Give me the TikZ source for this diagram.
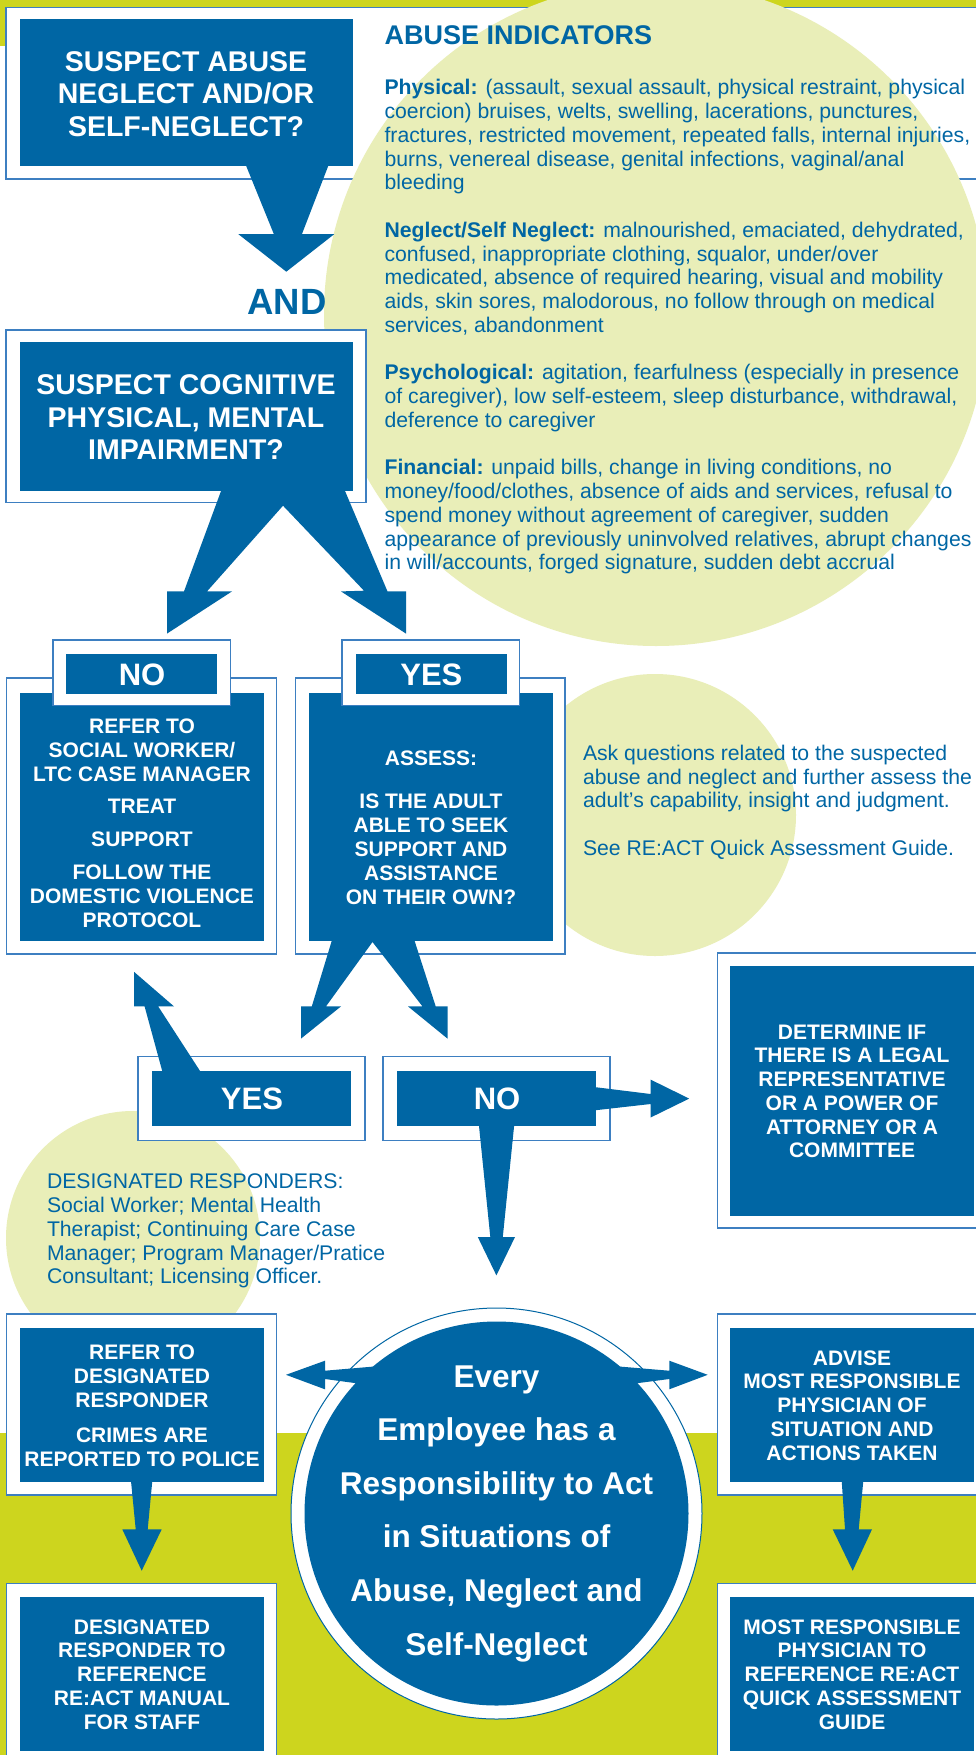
\documentclass[tikz,border=0pt]{standalone}
\usepackage{fontspec}
\setmainfont{Liberation Sans}
\definecolor{bblue}{HTML}{0066A4}
\definecolor{limeband}{HTML}{CDD51E}
\definecolor{palelime}{HTML}{E9EEB8}
\definecolor{oline}{HTML}{3D7FC1}
\newcommand\rnode[6]{\node[#1, anchor=north west, minimum width={(#5)-(#3)}, minimum height={(#6)-(#4)}] (#2) at (#3,#4) {};}
\newcommand\topstrut{\rule{0pt}{1em}}
\begin{document}
\begin{tikzpicture}[x=1pt,y=-1pt,
  wframe/.style={fill=white, draw=oline, line width=1.3pt, inner sep=0pt, outer sep=0pt},
  bbox/.style={fill=bblue, draw=none, inner sep=0pt, outer sep=0pt},
  barrow/.style={fill=bblue, draw=none},
  wtxt/.style={text=white, inner sep=0pt, outer sep=0pt, align=center, anchor=north},
  btxt/.style={text=bblue, inner sep=0pt, outer sep=0pt, align=left, anchor=north west},
  ]
\useasboundingbox (0,0) rectangle (976,1755);
\fill[white] (0,0) rectangle (976,1755);
\fill[limeband] (0,0) rectangle (976,46);
\fill[limeband] (0,1433) rectangle (976,1755);
% top frame
\rnode{wframe}{f1}{6}{7.7}{990}{179}
% pale discs
\fill[palelime] (656,314) circle (332pt);
\fill[palelime] (655,815) circle (141pt);
\fill[palelime] (133,1238) circle (127pt);
% boxes
\rnode{bbox}{b1}{20}{19}{353}{166}
\rnode{wframe}{f2}{6}{330}{366}{502.5}
\rnode{bbox}{b2}{20}{342}{353}{491}
\rnode{wframe}{fno}{6.4}{678}{276.8}{954}
\rnode{bbox}{bno}{20}{692.5}{263.6}{940.7}
\rnode{wframe}{hnof}{53}{640}{230.4}{705.7}
\rnode{bbox}{hno}{66}{654.3}{217}{693.6}
\rnode{wframe}{fyes}{295.7}{678}{565}{954}
\rnode{bbox}{byes}{309}{692.5}{552.7}{940.7}
\rnode{wframe}{hyesf}{342}{640}{519.6}{705.7}
\rnode{bbox}{hyes}{356}{654.3}{507}{693.6}
\rnode{wframe}{fy2}{138}{1056.4}{365}{1140.7}
\rnode{bbox}{by2}{152}{1071}{351}{1126.4}
\rnode{wframe}{fn2}{383}{1056.4}{610}{1140.7}
\rnode{bbox}{bn2}{397}{1071}{595.6}{1126.4}
\rnode{wframe}{fdet}{717.5}{952.9}{990}{1227.9}
\rnode{bbox}{bdet}{730}{965.7}{974}{1215.7}
\rnode{wframe}{fref}{6.4}{1314}{276.8}{1495}
\rnode{bbox}{bref}{20}{1328}{264}{1482}
\rnode{wframe}{fadv}{717.5}{1314}{990}{1495}
\rnode{bbox}{badv}{730}{1328}{974}{1482}
\rnode{wframe}{fdes}{6.4}{1583.3}{276.8}{1765}
\rnode{bbox}{bdes}{20}{1596.7}{264}{1750.7}
\rnode{wframe}{fmrp}{717.5}{1583.3}{990}{1765}
\rnode{bbox}{bmrp}{730}{1596.7}{974}{1750.7}
% central disc
\node[circle, fill=white, draw=bblue, line width=1pt, minimum size=411pt, inner sep=0pt] (ring) at (496.5,1513.5) {};
\node[circle, fill=bblue, minimum size=384pt, inner sep=0pt] (disc) at (496.5,1513.5) {};
% block arrows
\fill[barrow] (245.8,165) -- (273.9,234.2) -- (238.4,234.2) -- (286.3,271.7) -- (334.2,234.2) -- (301.9,234.2) -- (328.6,165) -- cycle;
\fill[barrow] (221.4,490) -- (184,591.4) -- (167,591.4) -- (167,633.6) -- (232,591.4) -- (207,591.4) -- (283,505.7) -- (364,590.7) -- (341,591.4) -- (406,633.6) -- (406,591.4) -- (387.5,591.4) -- (344.6,490) -- cycle;
\fill[barrow] (332,940) -- (311.8,1006.4) -- (301,1006.4) -- (301,1038.6) -- (341,1006.4) -- (326,1006.4) -- (372.5,942) -- (422.5,1006.4) -- (408,1006.4) -- (447.5,1038.6) -- (447.5,1006.4) -- (435.7,1006.4) -- (414.3,940) -- cycle;
\fill[barrow] (162.5,1072) -- (144.6,1006.4) -- (134,1006.4) -- (134,971.8) -- (174,1006.4) -- (158.2,1006.4) -- (200.7,1072) -- cycle;
\fill[barrow] (478.9,1125) -- (490.3,1237) -- (477.8,1237) -- (496.4,1275.4) -- (515,1237) -- (502.8,1237) -- (514.2,1125) -- cycle;
\fill[barrow] (594,1087) -- (650.6,1094) -- (650.6,1079.6) -- (689.2,1098.6) -- (650.6,1117.5) -- (650.6,1104) -- (594,1110.4) -- cycle;
\fill[barrow] (380,1366) -- (325,1370.7) -- (325,1360.7) -- (286,1374.8) -- (325,1389.3) -- (325,1379) -- (362,1384) -- cycle;
\fill[barrow] (613,1366) -- (669.3,1370.7) -- (669.3,1360.7) -- (707.7,1374.8) -- (669.3,1389.3) -- (669.3,1379) -- (631,1384) -- cycle;
\fill[barrow] (131,1481) -- (135.7,1529.3) -- (122.3,1529.3) -- (141.7,1570.7) -- (161.7,1529.3) -- (147.7,1529.3) -- (152.3,1481) -- cycle;
\fill[barrow] (841.7,1481) -- (845,1529.3) -- (832.7,1529.3) -- (852.7,1570.7) -- (872,1529.3) -- (858.7,1529.3) -- (863.3,1481) -- cycle;
% texts
\node[wtxt, font=\fontsize{28.5}{32.5}\selectfont\bfseries] (t1) at (186,71.4-28.5) {\topstrut SUSPECT ABUSE\\NEGLECT AND/OR\\SELF-NEGLECT?};
\node[wtxt, font=\fontsize{28.5}{32.5}\selectfont\bfseries] (t2) at (186,394.8-28.5) {\topstrut SUSPECT COGNITIVE\\PHYSICAL, MENTAL\\IMPAIRMENT?};
\node[anchor=base, inner sep=0pt, text=bblue, font=\fontsize{36.5}{40}\selectfont\bfseries] (tand) at (287,314) {AND};
\node[btxt, font=\fontsize{27}{30}\selectfont\bfseries] (tai) at (384.6,44.5-27) {\topstrut ABUSE INDICATORS};
\node[btxt, font=\fontsize{21.2}{23.75}\selectfont] (tbody) at (384.6,94.9-21.2) {\topstrut\textbf{Physical:} (assault, sexual assault, physical restraint, physical\\
coercion) bruises, welts, swelling, lacerations, punctures,\\
fractures, restricted movement, repeated falls, internal injuries,\\
burns, venereal disease, genital infections, vaginal/anal\\
bleeding\\[23.75pt]
\textbf{Neglect/Self Neglect:} malnourished, emaciated, dehydrated,\\
confused, inappropriate clothing, squalor, under/over\\
medicated, absence of required hearing, visual and mobility\\
aids, skin sores, malodorous, no follow through on medical\\
services, abandonment\\[23.75pt]
\textbf{Psychological:} agitation, fearfulness (especially in presence\\
of caregiver), low self-esteem, sleep disturbance, withdrawal,\\
deference to caregiver\\[23.75pt]
\textbf{Financial:} unpaid bills, change in living conditions, no\\
money/food/clothes, absence of aids and services, refusal to\\
spend money without agreement of caregiver, sudden\\
appearance of previously uninvolved relatives, abrupt changes\\
in will/accounts, forged signature, sudden debt accrual};
\node[wtxt, font=\fontsize{31}{34}\selectfont\bfseries] (tno) at (142,685.7-31) {\topstrut NO};
\node[wtxt, font=\fontsize{31}{34}\selectfont\bfseries] (tyes) at (431.4,685.7-31) {\topstrut YES};
\node[wtxt, font=\fontsize{21}{24}\selectfont\bfseries] (tnob) at (142,733.2-21) {\topstrut REFER TO\\SOCIAL WORKER/\\LTC CASE MANAGER\\[8.5pt]TREAT\\[9pt]SUPPORT\\[9pt]FOLLOW THE\\DOMESTIC VIOLENCE\\PROTOCOL};
\node[wtxt, font=\fontsize{21}{24}\selectfont\bfseries] (tyesb) at (431,765.4-21) {\topstrut ASSESS:\\[19.5pt]IS THE ADULT\\ABLE TO SEEK\\SUPPORT AND\\ASSISTANCE\\ON THEIR OWN?};
\node[btxt, font=\fontsize{21.2}{23.7}\selectfont] (task) at (583,760.5-21.2) {\topstrut Ask questions related to the suspected\\abuse and neglect and further assess the\\adult\char39 s capability, insight and judgment.\\[23.7pt]See RE:ACT Quick Assessment Guide.};
\node[wtxt, font=\fontsize{31}{34}\selectfont\bfseries] (tyes2) at (252,1109.5-31) {\topstrut YES};
\node[wtxt, font=\fontsize{31}{34}\selectfont\bfseries] (tno2) at (497,1109.5-31) {\topstrut NO};
\node[wtxt, font=\fontsize{21}{23.7}\selectfont\bfseries] (tdet) at (852,1039.2-21) {\topstrut DETERMINE IF\\THERE IS A LEGAL\\REPRESENTATIVE\\OR A POWER OF\\ATTORNEY OR A\\COMMITTEE};
\node[btxt, font=\fontsize{21.2}{23.9}\selectfont] (tdr) at (47,1188.3-21.2) {\topstrut DESIGNATED RESPONDERS:\\Social Worker; Mental Health\\Therapist; Continuing Care Case\\Manager; Program Manager/Pratice\\Consultant; Licensing Officer.};
\node[wtxt, font=\fontsize{21}{24}\selectfont\bfseries] (tref) at (142,1359-21) {\topstrut REFER TO\\DESIGNATED\\RESPONDER\\[11pt]CRIMES ARE\\REPORTED TO POLICE};
\node[wtxt, font=\fontsize{21}{23.75}\selectfont\bfseries] (tadv) at (852,1365-21) {\topstrut ADVISE\\MOST RESPONSIBLE\\PHYSICIAN OF\\SITUATION AND\\ACTIONS TAKEN};
\node[wtxt, font=\fontsize{31.5}{53.6}\selectfont\bfseries] (tdisc) at (496.5,1387-31.5) {\topstrut Every\\Employee has a\\Responsibility to Act\\in Situations of\\Abuse, Neglect and\\Self-Neglect};
\node[wtxt, font=\fontsize{21}{23.75}\selectfont\bfseries] (tdes) at (142,1634-21) {\topstrut DESIGNATED\\RESPONDER TO\\REFERENCE\\RE:ACT MANUAL\\FOR STAFF};
\node[wtxt, font=\fontsize{21}{23.75}\selectfont\bfseries] (tmrp) at (852,1634-21) {\topstrut MOST RESPONSIBLE\\PHYSICIAN TO\\REFERENCE RE:ACT\\QUICK ASSESSMENT\\GUIDE};
\end{tikzpicture}
\end{document}
